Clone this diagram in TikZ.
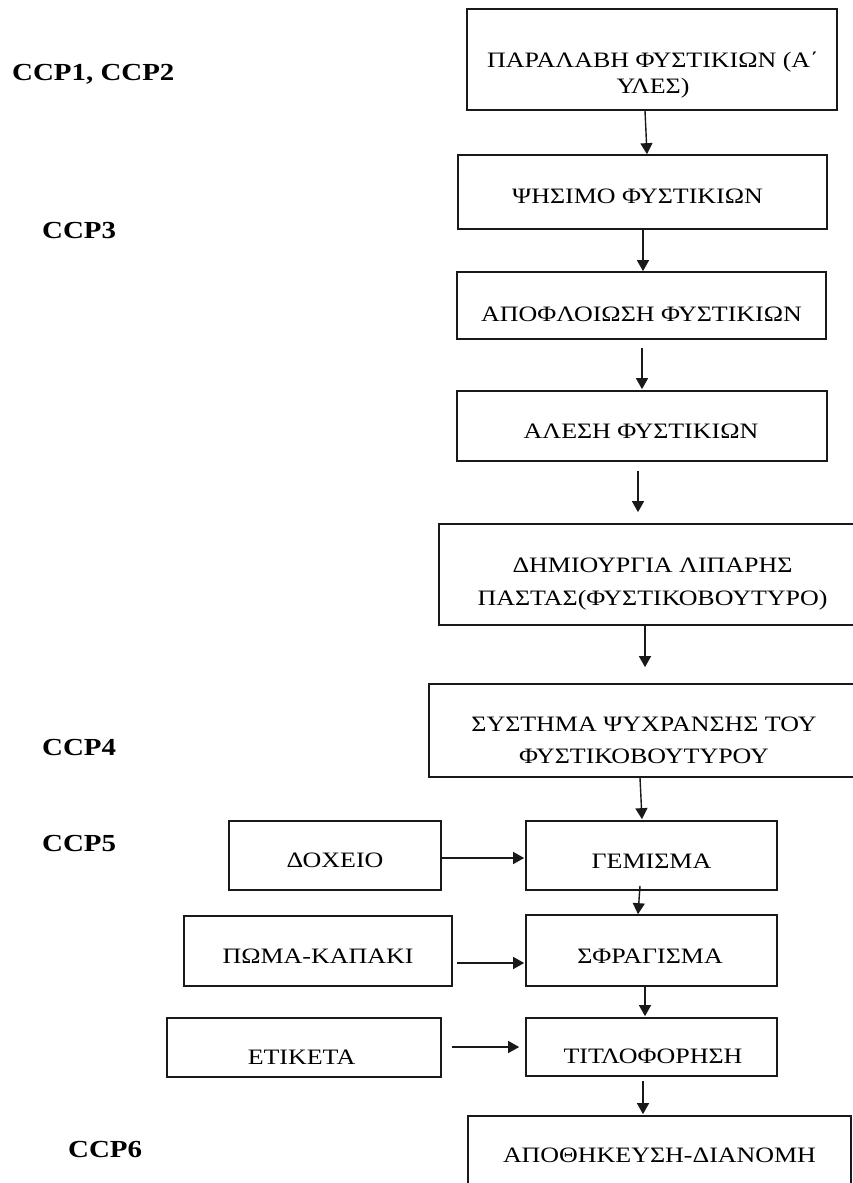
\documentclass[tikz,border=0pt]{standalone}
\usepackage{fontspec}
\setmainfont{Liberation Serif}[FakeStretch=1.18]
\usetikzlibrary{arrows.meta,calc}
\tikzset{
  stepbox/.style={draw=black!90, line width=1.7pt, rectangle, inner sep=0pt},
  boxtext/.style={anchor=north, inner sep=0pt, align=center, text=black, font=\fontsize{22}{26}\selectfont},
  ccplabel/.style={anchor=base west, inner sep=0pt, text=black, font=\fontsize{24.5}{26}\selectfont\bfseries},
  arr/.style={line width=1.4pt, draw=black!90, -{Triangle[width=12pt,length=11pt]}}
}
\begin{document}
\begin{tikzpicture}[x=1pt,y=-1pt]
\fill[white] (0,0) rectangle (853,1183);
\useasboundingbox (0,0) rectangle (853,1183);
\clip (0,0) rectangle (853,1183);

% main column boxes
\node[stepbox, minimum width=370pt, minimum height=101pt] (b1) at (652,59.5) {};
\node[stepbox, minimum width=369pt, minimum height=74pt]  (b2) at (642.5,192) {};
\node[stepbox, minimum width=369pt, minimum height=67pt]  (b3) at (641.5,305.5) {};
\node[stepbox, minimum width=370pt, minimum height=70pt]  (b4) at (642,426) {};
\node[stepbox, minimum width=427pt, minimum height=101pt] (b5) at (652.5,574.5) {};
\node[stepbox, minimum width=430pt, minimum height=93pt]  (b6) at (644,730.5) {};
\node[stepbox, minimum width=251pt, minimum height=69pt]  (bg) at (651.5,855.5) {};
\node[stepbox, minimum width=251pt, minimum height=71pt]  (bs) at (651.5,950.5) {};
\node[stepbox, minimum width=251pt, minimum height=58pt]  (bt) at (651.5,1047) {};
\node[stepbox, minimum width=383pt, minimum height=94pt]  (ba) at (659.5,1163) {};
% side boxes
\node[stepbox, minimum width=212pt, minimum height=69pt]  (bd) at (335,855.5) {};
\node[stepbox, minimum width=268pt, minimum height=70pt]  (bp) at (318,951) {};
\node[stepbox, minimum width=274pt, minimum height=59pt]  (be) at (304,1047.5) {};

% texts
\node[boxtext] (t1) at ($(b1.north)+(1,44)$) {ΠΑΡΑΛΑΒΗ ΦΥΣΤΙΚΙΩΝ (Α΄\\ΥΛΕΣ)};
\node[boxtext] (t2) at ($(b2.north)+(-5,34.7)$) {ΨΗΣΙΜΟ ΦΥΣΤΙΚΙΩΝ};
\node[boxtext] (t3) at ($(b3.north)+(0,35.7)$) {ΑΠΟΦΛΟΙΩΣΗ ΦΥΣΤΙΚΙΩΝ};
\node[boxtext] (t4) at ($(b4.north)+(-1,33.7)$) {ΑΛΕΣΗ ΦΥΣΤΙΚΙΩΝ};
\node[boxtext, font=\fontsize{22}{33}\selectfont] (t5) at ($(b5.north)+(0,34.7)$) {ΔΗΜΙΟΥΡΓΙΑ ΛΙΠΑΡΗΣ\\ΠΑΣΤΑΣ(ΦΥΣΤΙΚΟΒΟΥΤΥΡΟ)};
\node[boxtext, font=\fontsize{22}{32}\selectfont] (t6) at ($(b6.north)+(0,33.7)$) {ΣΥΣΤΗΜΑ ΨΥΧΡΑΝΣΗΣ ΤΟΥ\\ΦΥΣΤΙΚΟΒΟΥΤΥΡΟΥ};
\node[boxtext] (tg) at ($(bg.north)+(0,33.7)$) {ΓΕΜΙΣΜΑ};
\node[boxtext] (ts) at ($(bs.north)+(-1.5,34.7)$) {ΣΦΡΑΓΙΣΜΑ};
\node[boxtext] (tt) at ($(bt.north)+(1.5,31.7)$) {ΤΙΤΛΟΦΟΡΗΣΗ};
\node[boxtext] (ta) at ($(ba.north)+(0,32.7)$) {ΑΠΟΘΗΚΕΥΣΗ-ΔΙΑΝΟΜΗ};
\node[boxtext] (td) at ($(bd.north)+(0,32.7)$) {ΔΟΧΕΙΟ};
\node[boxtext] (tp) at ($(bp.north)+(0,33.7)$) {ΠΩΜΑ-ΚΑΠΑΚΙ};
\node[boxtext] (te) at ($(be.north)+(-2.5,32.7)$) {ΕΤΙΚΕΤΑ};

% CCP labels
\node[ccplabel] (c12) at (12,80) {CCP1, CCP2};
\node[ccplabel] (c3) at (42,238) {CCP3};
\node[ccplabel] (c4) at (42,755) {CCP4};
\node[ccplabel] (c5) at (42,851) {CCP5};
\node[ccplabel] (c6) at (68,1157) {CCP6};

% vertical connectors
\draw[arr] ($(b1.south)+(-7,0)$) -- ($(b2.north)+(4.5,0)$);
\draw[arr] ($(b2.south)+(0.5,0)$) -- ($(b3.north)+(1.5,0)$);
\draw[arr] ($(b3.south)+(0.5,8)$) -- ($(b4.north)+(0,-1)$);
\draw[arr] ($(b4.south)+(-4,9)$) -- ($(b5.north)+(-14.5,-11)$);
\draw[arr] ($(b5.south)+(-7.5,0)$) -- ($(b6.north)+(1,-16)$);
\draw[arr] ($(b6.south)+(-4,0)$) -- ($(bg.north)+(-9.5,-1)$);
\draw[arr] ($(bg.south)+(-11.5,-5)$) -- ($(bs.north)+(-13.5,0)$);
\draw[arr] ($(bs.south)+(-6.5,0)$) -- ($(bt.north)+(-6.5,-1)$);
\draw[arr] ($(bt.south)+(-8.5,4)$) -- ($(ba.north)+(-16.5,-1)$);
% horizontal connectors
\draw[arr] ($(bd.east)+(0,2.5)$) -- ($(bg.west)+(-1,2.5)$);
\draw[arr] ($(bp.east)+(4,12)$) -- ($(bs.west)+(-1,12.5)$);
\draw[arr] ($(be.east)+(10,-0.5)$) -- ($(bt.west)+(-6,0)$);
\end{tikzpicture}
\end{document}
